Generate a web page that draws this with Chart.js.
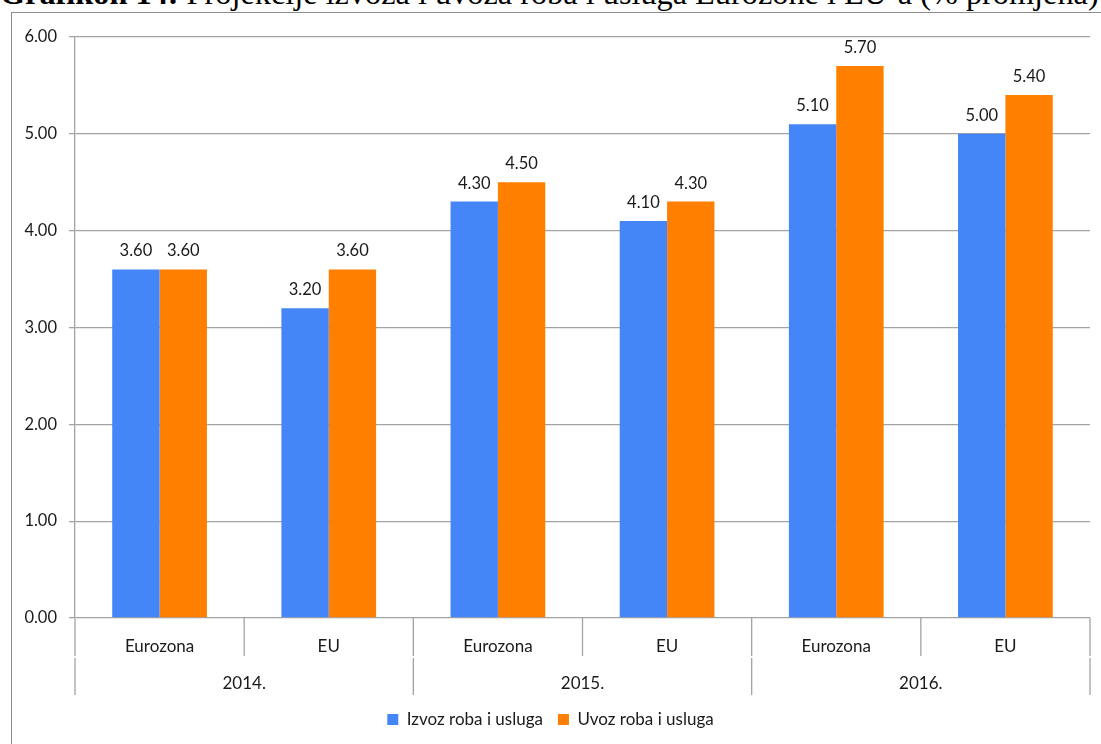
<!DOCTYPE html>
<html>
<head>
<meta charset="utf-8">
<script src="https://cdn.jsdelivr.net/npm/chart.js@4"></script>
<style>
  body { margin: 0; background: #fff; overflow: hidden; }
  #title {
    position: absolute; left: 0; top: -23px; white-space: nowrap;
    font-family: "Liberation Serif", "Times New Roman", serif;
    font-size: 32.3px; line-height: 32px; color: #000;
  }
  #frame {
    position: absolute; left: 11px; top: 12px; width: 1200px; height: 800px;
    border: 1px solid #8c8c8c; box-sizing: border-box;
  }
  #wrap { position: absolute; left: 0; top: 0; width: 1101px; height: 744px; }
</style>
</head>
<body>
<div id="title"><b>Grafikon 14:</b> Projekcije izvoza i uvoza roba i usluga Eurozone i EU-a (% promjena)</div>
<div id="frame"></div>
<div id="wrap"><canvas id="chart"></canvas></div>
<script>
// data
var regions = ["Eurozona", "EU", "Eurozona", "EU", "Eurozona", "EU"];
var years = ["2014.", "2015.", "2016."];
var izvoz = [3.6, 3.2, 4.3, 4.1, 5.1, 5.0];
var uvoz = [3.6, 3.6, 4.5, 4.3, 5.7, 5.4];
var yTicks = [0, 1, 2, 3, 4, 5, 6];

var gridColor = "#a3a3a3";
var font = "Lato, 'Open Sans', sans-serif";

// values above the bars
var valueLabels = {
    id: "valueLabels",
    afterDatasetsDraw: function(chart) {
        var ctx = chart.ctx;
        ctx.save();
        ctx.font = "16.5px " + font;
        ctx.fillStyle = "#1a1a1a";
        ctx.textAlign = "center";
        ctx.textBaseline = "alphabetic";
        chart.data.datasets.forEach(function(ds, i) {
            chart.getDatasetMeta(i).data.forEach(function(bar, j) {
                ctx.fillText(ds.data[j].toFixed(2), bar.x, bar.y - 13);
            });
        });
        ctx.restore();
    }
};

// separators of the two-level category axis
var categoryDividers = {
    id: "categoryDividers",
    afterDraw: function(chart) {
        var x = chart.scales.x;
        var ctx = chart.ctx;
        var y0 = chart.chartArea.bottom;
        var n = regions.length;
        var step = (x.getPixelForValue(n - 1) - x.getPixelForValue(0)) / (n - 1);
        var per = n / years.length;
        ctx.save();
        ctx.strokeStyle = gridColor;
        ctx.lineWidth = 1.3;
        for (var i = 0; i <= n; i++) {
            var px = x.getPixelForValue(0) - step / 2 + i * step;
            ctx.beginPath();
            ctx.moveTo(px, y0);
            ctx.lineTo(px, y0 + 38);
            if (i % per === 0) {
                ctx.moveTo(px, y0 + 40);
                ctx.lineTo(px, y0 + 77);
            }
            ctx.stroke();
        }
        ctx.restore();
    }
};

new Chart(document.getElementById("chart"), {
    type: "bar",
    data: {
        labels: regions,
        datasets: [
            { label: "Izvoz roba i usluga", data: izvoz, backgroundColor: "#4485f8" },
            { label: "Uvoz roba i usluga", data: uvoz, backgroundColor: "#ff7f00" }
        ]
    },
    options: {
        responsive: true,
        maintainAspectRatio: false,
        animation: false,
        categoryPercentage: 0.56,
        barPercentage: 1.0,
        layout: { padding: { left: 11, right: 11, top: 37, bottom: 6 } },
        plugins: {
            legend: {
                position: "bottom",
                labels: {
                    boxWidth: 11, boxHeight: 11, padding: 15,
                    color: "#1a1a1a", font: { family: font, size: 17 }
                }
            },
            tooltip: { enabled: false }
        },
        scales: {
            x: {
                grid: { display: false },
                border: { display: false },
                ticks: { color: "#1a1a1a", padding: 10, font: { family: font, size: 17 } },
                afterFit: function(s) { s.height = 38; }
            },
            x2: {
                type: "category",
                labels: years,
                position: "bottom",
                offset: true,
                grid: { display: false },
                border: { display: false },
                ticks: { color: "#1a1a1a", padding: 9, font: { family: font, size: 17 } },
                afterFit: function(s) { s.height = 40; }
            },
            y: {
                min: 0, max: 6,
                afterBuildTicks: function(s) { s.ticks = yTicks.map(function(v) { return { value: v }; }); },
                afterFit: function(s) { s.width = 64; },
                grid: { color: gridColor, lineWidth: 1.3, tickLength: 6 },
                border: { color: gridColor, width: 1.3 },
                ticks: {
                    padding: 12, color: "#1a1a1a", font: { family: font, size: 16.5 },
                    callback: function(v) { return Number(v).toFixed(2); }
                }
            }
        }
    },
    plugins: [valueLabels, categoryDividers]
});
</script>
</body>
</html>
